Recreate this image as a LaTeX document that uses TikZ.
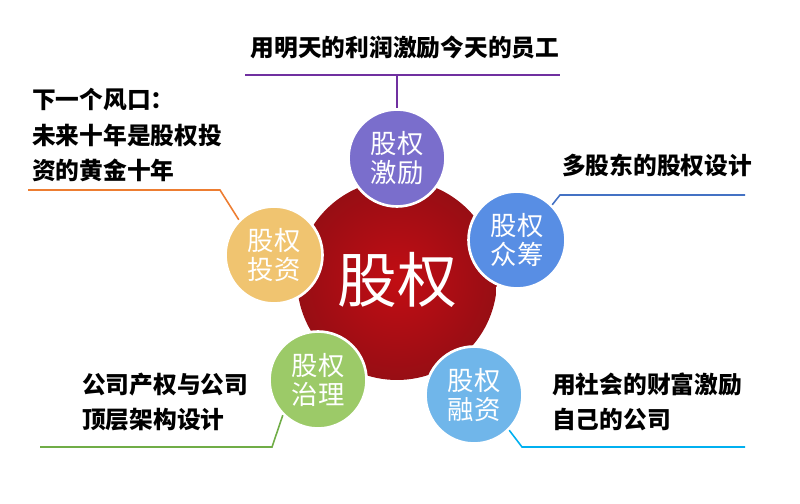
\documentclass[tikz,border=0pt]{standalone}
\usepackage{fontspec}
\newfontfamily\cjk{Noto Sans CJK SC}
\usetikzlibrary{calc}
\definecolor{coreRed}{RGB}{178,16,24}
\definecolor{cPurple}{RGB}{122,110,204}
\definecolor{cBlue}{RGB}{88,142,228}
\definecolor{cSky}{RGB}{112,182,234}
\definecolor{cGreen}{RGB}{156,202,104}
\definecolor{cTan}{RGB}{240,196,112}
\definecolor{lPurple}{RGB}{112,48,160}
\definecolor{lBlue}{RGB}{68,114,196}
\definecolor{lCyan}{RGB}{0,176,240}
\definecolor{lGreen}{RGB}{112,173,71}
\definecolor{lOrange}{RGB}{237,125,49}
\tikzset{
  petal/.style={circle,draw=white,line width=1.5pt,minimum size=1.94cm,inner sep=0pt,
    text=white,align=center,font=\cjk\fontsize{15}{17}\selectfont},
  note/.style={align=left,anchor=west,font=\cjk\bfseries\fontsize{13.5}{20}\selectfont},
  lead/.style={line width=0.9pt}
}
\begin{document}
\begin{tikzpicture}[x=0.02cm,y=-0.02cm]
    \useasboundingbox (0,0) rectangle (800,503);
    % centre
    \node[circle,inner sep=0pt,minimum size=4cm,inner color=coreRed!80!red,outer color=coreRed!85!black,
          text=white,font=\cjk\fontsize{34}{38}\selectfont] (core) at (397,280) {股权};
    % petals
    \node[petal,fill=cPurple] (jl) at (397,158) {股权\\激励};
    \node[petal,fill=cBlue] (zc) at (517,240) {股权\\众筹};
    \node[petal,fill=cSky] (rz) at (474,395) {股权\\融资};
    \node[petal,fill=cGreen] (zl) at (318,380) {股权\\治理};
    \node[petal,fill=cTan] (tz) at (274,255) {股权\\投资};
    % notes
    \node[note,anchor=center] (njl) at (405,47) {用明天的利润激励今天的员工};
    \node[note] (nzc) at (556,165) {多股东的股权设计};
    \node[note] (nrz) at (546,402) {用社会的财富激励\\自己的公司};
    \node[note] (nzl) at (76,402) {公司产权与公司\\顶层架构设计};
    \node[note] (ntz) at (26,135) {下一个风口：\\未来十年是股权投\\资的黄金十年};
    % leads
    \coordinate (a1) at (245,75); \coordinate (a2) at (560,75);
    \draw[lead,lPurple] (a1) -- (a2);
    \draw[lead,lPurple] (397,75) -- (jl.north);
    \coordinate (b1) at (560,195); \coordinate (b2) at (745,195);
    \draw[lead,lBlue] (zc.north east) -- (b1) -- (b2);
    \coordinate (c1) at (522,447); \coordinate (c2) at (745,447);
    \draw[lead,lCyan] (rz.south east) -- (c1) -- (c2);
    \coordinate (d1) at (272,447); \coordinate (d2) at (40,447);
    \draw[lead,lGreen] (zl.south west) -- (d1) -- (d2);
    \coordinate (e1) at (220,190); \coordinate (e2) at (28,190);
    \draw[lead,lOrange] (tz.north west) -- (e1) -- (e2);
\end{tikzpicture}
\end{document}
